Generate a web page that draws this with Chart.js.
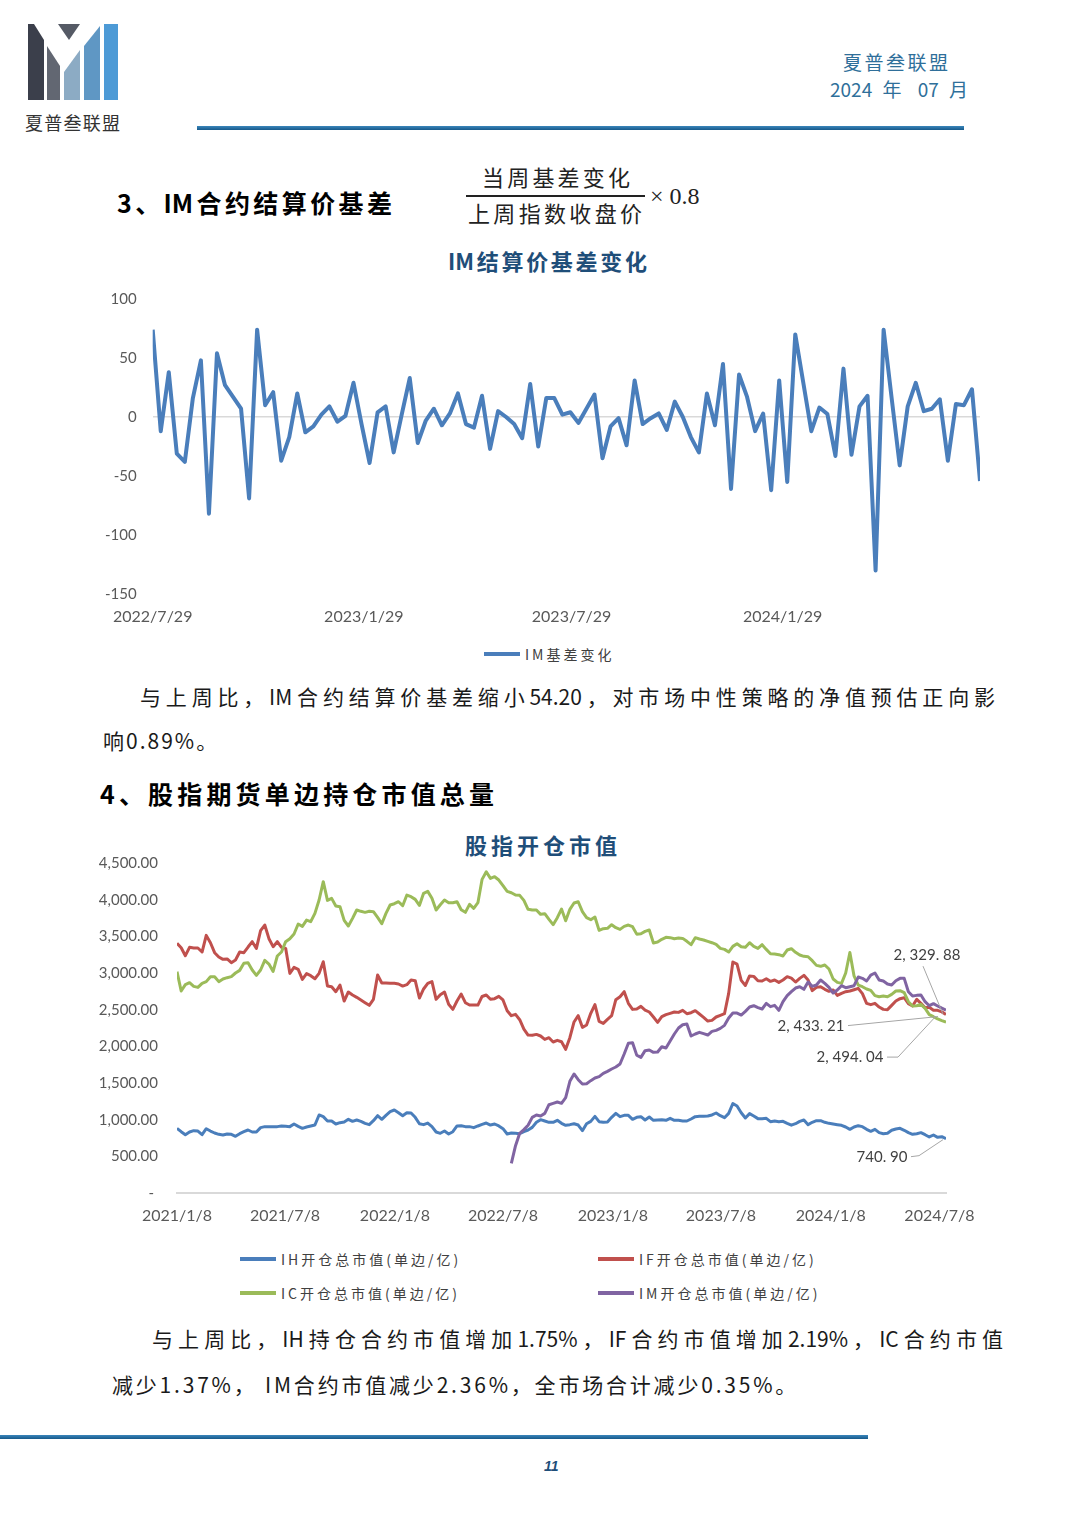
<!DOCTYPE html>
<html lang="zh-CN">
<head>
<meta charset="utf-8">
<title>IM结算价基差变化 / 股指开仓市值</title>
<script src="https://cdn.jsdelivr.net/npm/chart.js@4.4.1/dist/chart.umd.min.js"></script>
<style>
  html, body { margin: 0; padding: 0; background: #fff; }
  #page {
    position: relative; width: 1080px; height: 1528px; overflow: hidden; background: #fff;
    font-family: "Noto Sans CJK SC", "Noto Sans", sans-serif; color: #1a1a1a;
  }
  .t { position: absolute; line-height: 1; white-space: nowrap; }
  .j { text-align: justify; text-align-last: justify; white-space: normal; }
  .head { font-weight: 700; color: #000; }
  .ctitle { font-weight: 700; color: #1f4e79; font-size: 22px; }
  .body { font-size: 21px; color: #1a1a1a; }
  canvas { position: absolute; }
  .legend { position: absolute; display: grid; }
  .lg-item { display: flex; align-items: center; height: 24px; }
  .lg-line { display: inline-block; width: 36px; height: 4px; margin-right: 5px; }
  .lg-text { font-size: 14px; letter-spacing: 3px; color: #404040; line-height: 1; }
</style>
</head>
<body>
<div id="page">

  <!-- header -->
  <svg style="position:absolute;left:0;top:0" width="140" height="110">
    <polygon points="28,24 34,24 44,40 44,100 28,100" fill="#3b3f4b"/>
    <polygon points="47,46 60,66 60,100 47,100" fill="#626772"/>
    <polygon points="58,24 80,24 69,40" fill="#555a65"/>
    <polygon points="64,100 64,72 80,50 80,100" fill="#8cabc4"/>
    <polygon points="84,100 84,46 100,26 100,100" fill="#5f97c4"/>
    <polygon points="104,24 118,24 118,100 104,100" fill="#4d9ad6"/>
  </svg>
  <div class="t j" style="left:25px;top:113px;width:95px;font-size:18px;color:#333">夏普叁联盟</div>
  <div class="t j" style="left:843px;top:52px;width:105px;font-size:19px;color:#2f6f9a">夏普叁联盟</div>
  <div class="t j" style="left:830px;top:79px;width:138px;font-size:19px;color:#2f6f9a">2024 年 07 月</div>
  <div style="position:absolute;left:197px;top:126px;width:767px;height:4px;background:linear-gradient(#3a86bb,#17598a)"></div>

  <!-- section 3 -->
  <div class="t j head" style="left:117px;top:190px;width:275px;font-size:25px">3、IM合约结算价基差</div>
  <div class="t j" style="left:482px;top:165px;width:148px;font-size:22px;color:#222">当周基差变化</div>
  <div style="position:absolute;left:466px;top:195px;width:179px;height:1.5px;background:#222"></div>
  <div class="t j" style="left:468px;top:201px;width:174px;font-size:22px;color:#222">上周指数收盘价</div>
  <div class="t" style="left:650px;top:184px;font-size:24px;font-family:'Liberation Serif',serif;color:#222">× 0.8</div>

  <div class="t j ctitle" style="left:448px;top:249px;width:199px">IM结算价基差变化</div>
  <canvas id="basisChart" width="900" height="356" style="left:100px;top:274px"></canvas>
  <div id="legend1" class="legend" style="left:484px;top:642px"></div>

  <div class="t j body" style="left:140px;top:686px;width:855px">与上周比，IM合约结算价基差缩小54.20，对市场中性策略的净值预估正向影</div>
  <div class="t body" style="left:103px;top:730px;letter-spacing:2px">响0.89%。</div>

  <!-- section 4 -->
  <div class="t j head" style="left:100px;top:781px;width:394px;font-size:25px">4、股指期货单边持仓市值总量</div>
  <div class="t j ctitle" style="left:465px;top:833px;width:152px">股指开仓市值</div>
  <canvas id="posChart" width="900" height="405" style="left:90px;top:835px"></canvas>
  <div id="legend2" class="legend" style="left:240px;top:1247px;grid-template-columns:358px 230px;grid-auto-rows:34px"></div>

  <div class="t j body" style="left:152px;top:1328px;width:851px">与上周比，IH持仓合约市值增加1.75%，IF合约市值增加2.19%，IC合约市值</div>
  <div class="t body" style="left:112px;top:1374px;letter-spacing:2.8px">减少1.37%，  IM合约市值减少2.36%，全市场合计减少0.35%。</div>

  <!-- footer -->
  <div style="position:absolute;left:0;top:1435px;width:868px;height:4px;background:linear-gradient(#3a86bb,#17598a)"></div>
  <div class="t" style="left:544px;top:1459px;font-size:14px;font-weight:700;font-style:italic;color:#1f4e79;font-family:'Liberation Sans',sans-serif">11</div>
</div>

<script>
// ---- chart 1: IM settlement basis change (weekly from 2022/7/29)
const basisStart = '2022/7/29';
const basisTickLabels = ['2022/7/29', '2023/1/29', '2023/7/29', '2024/1/29'];
const basisSeriesName = 'IM基差变化';
const imBasisChange = [
  74, -12, 38, -31, -38, 16, 48, -82, 54, 27, 17, 7, -69, 74, 10, 21, -37, -17, 20, -13,
  -8, 2, 9, -4, 1, 29, -6, -39, 4, 9, -30, 2, 33, -22, -3, 7, -7, 3, 20, -6,
  -9, 18, -27, 5, 0, -6, -18, 28, -25, 16, 16, 2, 4, -5, 7, 19, -35, -8, -1, -24,
  31, -6, -1, 3, -11, 13, 0, -17, -30, 20, -7, 45, -61, 36, 17, -12, 3, -62, 31, -55,
  70, 29, -12, 8, 2.5, -33, 41, -32, 9, 18, -130, 74, 16, -41, 9, 29, 5, 7, 15, -37,
  11, 10, 23.5, -54.2
];

// ---- chart 2: open interest market value (weekly from 2021/1/8, IM from 2022/7/22)
const posStart = '2021/1/8';
const imPosStart = '2022/7/22';
const posTickLabels = ['2021/1/8', '2021/7/8', '2022/1/8', '2022/7/8', '2023/1/8', '2023/7/8', '2024/1/8', '2024/7/8'];
const posSeriesNames = ['IH开仓总市值(单边/亿)', 'IF开仓总市值(单边/亿)', 'IC开仓总市值(单边/亿)', 'IM开仓总市值(单边/亿)'];
const ihValue = [
  882, 836, 795, 832, 850, 845, 795, 877, 845, 818, 800, 791, 805, 800, 773, 809, 836, 859, 832, 832,
  891, 905, 905, 905, 905, 914, 909, 905, 941, 909, 882, 900, 914, 927, 1064, 1041, 982,
  982, 941, 959, 968, 1005, 977, 995, 977, 950, 932, 986, 1054, 1005, 1059, 1109, 1132, 1095, 1054,
  1095, 1091, 1032, 945, 932, 954, 905, 832, 814, 845, 805, 836, 914, 918, 905, 905, 891, 914, 935,
  954, 927, 941, 914, 877, 805, 818, 814, 809, 836, 859, 895, 964, 1000, 982, 964, 964, 991, 950,
  923, 932, 945, 927, 850, 945, 977, 1045, 973, 964, 968, 1032, 1086, 1041, 1059, 1059, 1005, 1032,
  1041, 995, 1036, 991, 995, 1000, 991, 1018, 991, 991, 982, 982, 1009, 1041, 1045, 1045, 1050, 1064,
  1091, 1054, 1027, 1086, 1220, 1186, 1095, 1023, 1082, 1050, 1014, 1014, 1018, 973, 982, 973, 977, 950, 925,
  945, 977, 995, 932, 964, 986, 986, 964, 950, 941, 932, 923, 900, 868, 900, 918, 905, 868, 841,
  868, 823, 809, 814, 855, 873, 882, 855, 823, 800, 809, 823, 795, 764, 791, 759, 768, 740.90
];
const ifValue = [
  3404, 3345, 3236, 3350, 3341, 3341, 3286, 3513, 3413, 3277, 3218, 3186, 3191, 3141, 3177, 3286, 3277, 3354, 3427,
  3336, 3577, 3654, 3468, 3359, 3427, 3350, 3336, 2995, 3077, 3050, 2913, 2991, 2963, 2922, 2995, 3154, 2822,
  2813, 2745, 2836, 2618, 2741, 2700, 2668, 2632, 2595, 2559, 2641, 2972, 2863, 2863, 2859, 2859, 2850, 2822,
  2841, 2904, 2895, 2659, 2782, 2859, 2882, 2641, 2704, 2741, 2573, 2504, 2618, 2713, 2595, 2563, 2563, 2563, 2680,
  2700, 2641, 2650, 2682, 2632, 2486, 2418, 2436, 2363, 2236, 2154, 2150, 2163, 2141, 2095, 2118, 2059, 2082, 2063,
  1959, 2118, 2332, 2418, 2259, 2291, 2450, 2568, 2341, 2313, 2368, 2418, 2636, 2677, 2745, 2586, 2504, 2510,
  2545, 2495, 2468, 2400, 2327, 2404, 2432, 2450, 2468, 2463, 2491, 2445, 2459, 2486, 2441, 2395, 2345, 2354,
  2400, 2422, 2445, 2722, 3150, 3120, 2900, 2830, 2960, 2954, 2895, 2891, 2922, 2886, 2904, 2872, 2904, 2950, 2930,
  2877, 2927, 2968, 2904, 2759, 2804, 2813, 2777, 2750, 2768, 2695, 2722, 2745, 2754, 2772, 2791, 2718, 2586, 2568,
  2586, 2536, 2504, 2500, 2559, 2618, 2650, 2663, 2582, 2550, 2641, 2586, 2527, 2532, 2491, 2491, 2470, 2433.21
];
const icValue = [
  3018, 2754, 2841, 2868, 2818, 2804, 2859, 2882, 2950, 2950, 2882, 2918, 2936, 2950, 3000, 3036, 3132, 3141, 3041,
  2968, 3041, 3172, 3122, 3022, 3232, 3286, 3427, 3468, 3532, 3668, 3636, 3722, 3700, 3813, 3995, 4245, 3990,
  4018, 3913, 3904, 3718, 3641, 3745, 3859, 3841, 3827, 3841, 3836, 3759, 3672, 3813, 3927, 3945, 3972, 3918,
  4063, 4041, 4004, 3922, 4086, 4113, 4018, 3859, 3931, 3995, 3959, 3959, 3972, 3863, 3827, 3936, 3882, 3959, 4277,
  4381, 4290, 4313, 4268, 4190, 4113, 4095, 4063, 4059, 3990, 3868, 3859, 3859, 3800, 3809, 3731, 3659, 3754, 3872,
  3713, 3868, 3954, 3972, 3836, 3754, 3727, 3763, 3581, 3604, 3609, 3659, 3618, 3595, 3636, 3654, 3631, 3530,
  3536, 3568, 3586, 3409, 3422, 3459, 3486, 3482, 3468, 3477, 3472, 3432, 3386, 3482, 3463, 3450, 3432, 3413,
  3391, 3336, 3322, 3286, 3363, 3400, 3359, 3350, 3413, 3363, 3336, 3386, 3322, 3263, 3259, 3250, 3232, 3313, 3331,
  3282, 3245, 3227, 3222, 3168, 3104, 3091, 3109, 3054, 2918, 2872, 2859, 3000, 3280, 2960, 2836, 2813, 2782, 2763,
  2691, 2677, 2686, 2677, 2709, 2754, 2759, 2732, 2609, 2550, 2554, 2572, 2518, 2432, 2404, 2373, 2350, 2329.88
];
const imValue = [
  405, 645, 814, 864, 923, 1032, 1064, 1050, 1086, 1204, 1223, 1241, 1223, 1300, 1523, 1623, 1545, 1486, 1491,
  1532, 1568, 1586, 1632, 1659, 1691, 1718, 1759, 1895, 2041, 2050, 1880,
  1850, 1941, 1950, 1918, 1923, 1995, 1977, 2073, 2168, 2250, 2295, 2304, 2141, 2168, 2191, 2173, 2154, 2204,
  2218, 2245, 2286, 2386, 2454, 2454, 2427, 2477, 2536, 2554, 2527, 2509, 2586, 2541, 2559, 2491, 2609, 2691, 2745,
  2795, 2813, 2777, 2877, 2818, 2836, 2904, 2859, 2804, 2727, 2768, 2827, 2800, 2813, 2827, 2945, 2927, 2891, 2972,
  3000, 2904, 2891, 2850, 2836, 2895, 2927, 2927, 2745, 2686, 2695, 2700, 2609, 2554, 2582, 2550, 2520, 2494.04
];

const posColors = ['#4a7ebb', '#c0504d', '#9bbb59', '#8064a2'];

// days between two 'y/m/d' strings
function dayOffset(from, to) {
  const p = s => { const [y, m, d] = s.split('/').map(Number); return Date.UTC(y, m - 1, d); };
  return Math.round((p(to) - p(from)) / 86400000);
}
function weekly(values, first, base) {
  const off = dayOffset(base, first);
  return values.map((v, i) => ({ x: off + i * 7, y: v }));
}

function htmlLegend(chart, el) {
  chart.data.datasets.forEach(ds => {
    const item = document.createElement('div');
    item.className = 'lg-item';
    const sw = document.createElement('span');
    sw.className = 'lg-line';
    sw.style.background = ds.borderColor;
    const tx = document.createElement('span');
    tx.className = 'lg-text';
    tx.textContent = ds.label;
    item.append(sw, tx);
    el.append(item);
  });
}

// end-of-series value labels with leader lines (offsets relative to last point)
const endLabelLayout = [
  { dx: -64, dy: 18, path: [[-35, 18], [-27, 17], [-3, 1]] },
  { dx: -135, dy: 12, path: [[-98, 11], [-8, 2]] },
  { dx: -19, dy: -67, path: [[-23, -56], [-3, -8]] },
  { dx: -96, dy: 47, path: [[-59, 47], [-48, 47], [-10, 6]] }
];
const endLabels = {
  id: 'endLabels',
  afterDatasetsDraw(chart) {
    const ctx = chart.ctx;
    ctx.save();
    chart.data.datasets.forEach((ds, di) => {
      const lay = endLabelLayout[di];
      const meta = chart.getDatasetMeta(di);
      const pt = meta.data[meta.data.length - 1];
      const v = ds.data[ds.data.length - 1].y;
      const txt = v.toLocaleString('en-US', { minimumFractionDigits: 2, maximumFractionDigits: 2 })
        .replace(/,/g, ', ').replace('.', '. ');
      ctx.strokeStyle = '#a6a6a6';
      ctx.lineWidth = 1;
      ctx.beginPath();
      lay.path.forEach(([x, y], k) => {
        if (k === 0) ctx.moveTo(pt.x + x, pt.y + y); else ctx.lineTo(pt.x + x, pt.y + y);
      });
      ctx.stroke();
      ctx.fillStyle = '#404040';
      ctx.font = '15px Lato';
      ctx.textAlign = 'center';
      ctx.textBaseline = 'middle';
      ctx.fillText(txt, pt.x + lay.dx, pt.y + lay.dy);
    });
    ctx.restore();
  }
};

// chart 1
const basisTicks = basisTickLabels.map(l => dayOffset(basisStart, l));
const basisChart = new Chart(document.getElementById('basisChart'), {
  type: 'line',
  data: {
    datasets: [{
      label: basisSeriesName,
      data: weekly(imBasisChange, basisStart, basisStart),
      borderColor: '#4a7ebb',
      borderWidth: 4,
      borderJoinStyle: 'round',
      pointRadius: 0,
      tension: 0,
      fill: false
    }]
  },
  options: {
    responsive: false,
    animation: false,
    events: [],
    layout: { padding: { top: 0, right: 20, left: 0, bottom: 0 } },
    plugins: { legend: { display: false }, tooltip: { enabled: false } },
    scales: {
      x: {
        type: 'linear',
        min: 0,
        max: (imBasisChange.length - 1) * 7,
        afterBuildTicks: s => { s.ticks = basisTicks.map(v => ({ value: v })); },
        afterFit: s => { s.height = 36; },
        grid: { display: false, drawTicks: false },
        border: { display: false },
        ticks: {
          autoSkip: false, maxRotation: 0, padding: 13, color: '#595959',
          font: { family: 'Lato', size: 16 },
          callback: (v, i) => basisTickLabels[i]
        }
      },
      y: {
        min: -150,
        max: 100,
        afterFit: s => { s.width = 51; },
        ticks: { stepSize: 50, padding: 16, color: '#595959', font: { family: 'Lato', size: 15 } },
        grid: {
          drawTicks: false,
          lineWidth: 1.5,
          color: c => (c.tick && c.tick.value === 0 ? '#d9d9d9' : 'rgba(0,0,0,0)')
        },
        border: { display: false }
      }
    }
  }
});
htmlLegend(basisChart, document.getElementById('legend1'));

// chart 2
const posTicks = posTickLabels.map(l => dayOffset(posStart, l));
const posSeries = [ihValue, ifValue, icValue, imValue];
const posFirst = [posStart, posStart, posStart, imPosStart];
const posChart = new Chart(document.getElementById('posChart'), {
  type: 'line',
  data: {
    datasets: posSeries.map((vals, k) => ({
      label: posSeriesNames[k],
      data: weekly(vals, posFirst[k], posStart),
      borderColor: posColors[k],
      borderWidth: 3,
      borderJoinStyle: 'round',
      pointRadius: 0,
      tension: 0,
      fill: false,
      order: 4 - k
    }))
  },
  options: {
    responsive: false,
    animation: false,
    events: [],
    layout: { padding: { top: 0, right: 44, left: 0, bottom: 0 } },
    plugins: { legend: { display: false }, tooltip: { enabled: false } },
    scales: {
      x: {
        type: 'linear',
        min: 0,
        max: (ihValue.length - 1) * 7,
        afterBuildTicks: s => { s.ticks = posTicks.map(v => ({ value: v })); },
        afterFit: s => { s.height = 47; },
        grid: { display: false, drawTicks: false },
        border: { display: true, color: '#d9d9d9', width: 2 },
        ticks: {
          autoSkip: false, maxRotation: 0, padding: 13, color: '#595959',
          font: { family: 'Lato', size: 16 },
          callback: (v, i) => posTickLabels[i]
        }
      },
      y: {
        min: 0,
        max: 4500,
        afterFit: s => { s.width = 87; },
        ticks: {
          stepSize: 500, padding: 19, color: '#595959', font: { family: 'Lato', size: 15 },
          callback: v => (v === 0 ? '- ' : v.toLocaleString('en-US', { minimumFractionDigits: 2, maximumFractionDigits: 2 }))
        },
        grid: { display: false, drawTicks: false },
        border: { display: false }
      }
    }
  },
  plugins: [endLabels]
});
htmlLegend(posChart, document.getElementById('legend2'));
</script>
</body>
</html>
